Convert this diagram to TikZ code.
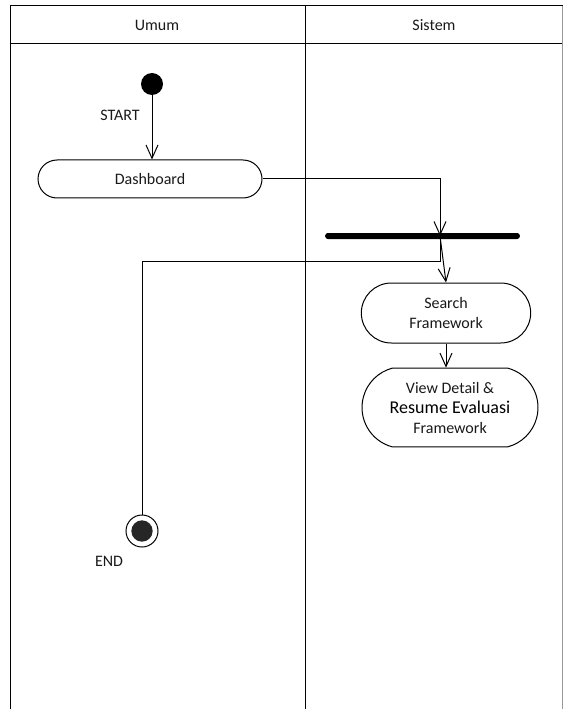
\documentclass[tikz,border=0pt]{standalone}
\usepackage{fontspec}
\setmainfont{Carlito}
\usetikzlibrary{arrows.meta,shapes.misc,positioning}
\tikzset{>={Straight Barb[length=10pt,width=9pt]}}
\tikzset{
  lane/.style     = {line width=0.75pt},
  activity/.style = {draw, line width=0.75pt, rounded rectangle, align=center, inner sep=0pt},
  startnode/.style= {circle, fill, minimum size=16.5pt, inner sep=0pt},
  endnode/.style  = {circle, draw, line width=0.75pt, minimum size=24pt, inner sep=0pt,
                     path picture={\fill[black!85] (path picture bounding box.center) circle (8pt);}},
  forkbar/.style  = {rectangle, fill, rounded corners=2pt, minimum width=146pt, minimum height=4.5pt, inner sep=0pt},
  flow/.style     = {->, line width=0.75pt},
  plain/.style    = {line width=0.75pt}
}

\begin{document}
\begin{tikzpicture}[x=0.75pt,y=-0.75pt,font=\fontsize{12}{15}\selectfont,text=black!90]
  \useasboundingbox (0,0) rectangle (563,709);
  % swimlanes
  \draw[lane] (10,709) -- (10,6) -- (563,6);
  \draw[lane] (10,44) -- (563,44);
  \draw[lane] (305,6) -- (305,709);
  \draw[lane,black!40] (562,6) -- (562,709);
  \node (umum) at (157,25) {Umum};
  \node (sistem) at (434,25) {Sistem};
  % start and end
  \node[startnode] (start) at (152,84) {};
  \node (startlbl) at (120,115) {START};
  \node[endnode] (end) at (142,531) {};
  \node (endlbl) at (109,561) {END};
  % activities
  \node[activity, minimum width=168pt, minimum height=28.5pt] (dash) at (150,179) {Dashboard};
  \node[forkbar] (bar) at (422.5,236) {};
  \coordinate (fork) at (440,236);
  \coordinate (split) at (440,261);
  \node[activity, minimum width=127pt, minimum height=45pt] (search) at (446,313) {Search\\Framework};
  \node[activity, minimum width=132pt, minimum height=59pt, rounded rectangle arc length=150] (view) at (450,407.5)
    {View Detail \&\\{\fontsize{13.5}{15}\selectfont\color{black}Resume Evaluasi}\\Framework};
  % flows
  \draw[flow] (start) -- (start |- dash.north);
  \draw[flow] (dash.east) -| (fork);
  \draw[flow] (fork) -- (search.north);
  \draw[plain] (fork) -- (split) -| (end);
  \draw[flow] (search.south) -- (search.south |- view.north);
\end{tikzpicture}
\end{document}
